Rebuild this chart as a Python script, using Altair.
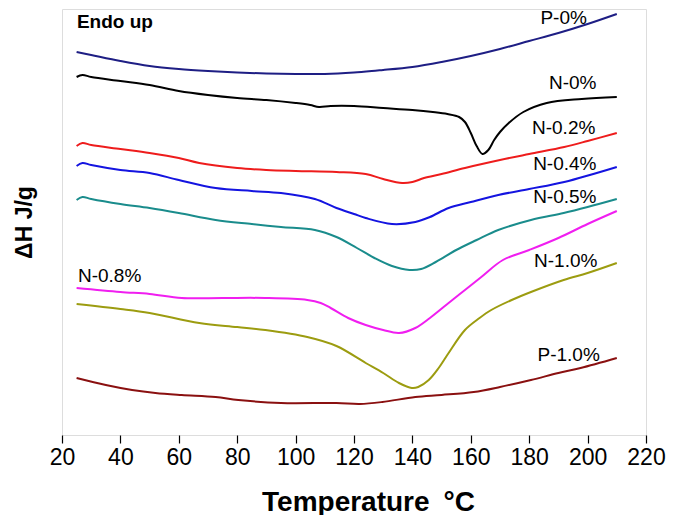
import altair as alt
import pandas as pd

# ---------------- data ----------------
series_names = ["P-0%", "N-0%", "N-0.2%", "N-0.4%", "N-0.5%", "N-0.8%", "N-1.0%", "P-1.0%"]
series_colors = ["#1e1e84", "#000000", "#ee1c1c", "#1414e0", "#1a8c8c", "#f01ef0", "#9c9c10", "#8a1010"]

p0_t = [25, 30, 40, 50, 60, 70, 80, 90, 100, 110, 120, 128, 130, 140, 150, 160, 170, 180, 190, 200, 210]
p0_v = [383, 380, 374, 369, 366, 364, 362.5, 361.5, 361, 361, 362.5, 364.5, 365, 368, 373, 379, 386, 394, 402, 411, 421]

n0_t = [25, 27, 30, 40, 50, 60, 70, 80, 90, 100, 105, 108, 112, 120, 130, 140, 147, 152, 156, 158, 160, 162, 164, 166, 168, 170, 173, 178, 186, 198, 210]
n0_v = [358, 360, 358, 354, 350, 344, 340, 337, 335, 332, 330, 328, 329, 329, 327, 325, 323, 321, 318, 313, 302, 289, 281, 285, 295, 303, 312, 323, 332, 336, 338]

n02_t = [25, 27, 30, 40, 50, 60, 67, 80, 90, 100, 114, 124, 130, 136.5, 140, 144, 150, 158, 170, 180, 192, 200, 210]
n02_v = [289, 292, 290, 286, 282, 277, 272, 267, 265, 264, 263, 261, 256, 252, 253, 257, 261, 267, 275, 281, 288, 294, 302]

n04_t = [25, 27, 30, 40, 50, 60, 72.6, 85, 95, 106.6, 114, 120, 124, 133, 141, 146, 152.4, 160, 169.4, 180, 192, 210]
n04_v = [269, 272, 270, 265, 262, 255, 247, 244, 242, 236, 227, 221, 217, 211, 213, 218, 227, 233, 240, 246, 253, 268]

n05_t = [25, 27, 30, 40, 50, 60, 72.6, 85, 95, 106.6, 114, 121, 127, 133, 139, 143, 148, 155, 162, 169.4, 180.6, 191.8, 200, 210]
n05_v = [235, 238, 236, 231, 227, 222, 215, 211, 208, 205, 198, 187, 177, 169, 165, 166, 173, 185, 195, 205, 215, 222, 228, 236]

n08_t = [25, 40, 50, 61, 75, 89.6, 104, 108.6, 112, 118, 124, 130, 135.4, 141, 146, 152.4, 158, 163.6, 171, 180, 190, 200, 210]
n08_v = [147, 143, 141, 137, 137, 137, 135, 132, 127, 117, 110, 105, 102, 107, 117, 132, 145, 158, 175, 185, 197, 211, 224]

n10_t = [25, 40, 50, 67, 80, 89.6, 104, 114, 124, 130, 135.4, 139.8, 142, 145.6, 149, 152.4, 158, 163, 167, 174, 180.6, 191.8, 200, 210]
n10_v = [131, 126, 122, 112, 108, 105, 98, 89, 72, 62, 52, 47, 48, 55, 67, 82, 105, 117, 125, 135, 143, 155, 162, 172]

p10_t = [25, 35, 44, 52, 61, 72.6, 80.4, 95, 114, 122, 129.7, 141, 150, 161, 170, 180.6, 190, 197.6, 210]
p10_v = [57, 50, 45, 42, 40, 38, 35, 32, 32, 31, 33, 38, 40, 43, 48, 55, 62, 67, 77]

label_text = ["P-0%", "N-0%", "N-0.2%", "N-0.4%", "N-0.5%", "N-1.0%", "P-1.0%", "N-0.8%"]
label_t = [191.8, 194.9, 191.8, 192.2, 192.2, 192.5, 193.5, 36.3]
label_v = [417, 352, 307, 271, 238, 174, 80, 159]

note_text = ["Endo up"]
note_t = [25.1]
note_v = [413]

all_ticks = [20, 30, 40, 50, 60, 70, 80, 90, 100, 110, 120, 130, 140, 150, 160, 170, 180, 190, 200, 210, 220]

# ---------------- tables ----------------
curves = [(p0_t, p0_v), (n0_t, n0_v), (n02_t, n02_v), (n04_t, n04_v),
          (n05_t, n05_v), (n08_t, n08_v), (n10_t, n10_v), (p10_t, p10_v)]
rows = []
for name, (ts, vs) in zip(series_names, curves):
    for t, v in zip(ts, vs):
        rows.append({"series": name, "T": t, "v": v})
df = pd.DataFrame(rows)
labels_df = pd.DataFrame({"text": label_text, "T": label_t, "v": label_v})
note_df = pd.DataFrame({"text": note_text, "T": note_t, "v": note_v})

FONT = "Liberation Sans"

xscale = alt.Scale(domain=[20, 220], nice=False, zero=False)
yscale = alt.Scale(domain=[0, 426], nice=False, zero=False)

x_axis = alt.Axis(
    values=all_ticks,
    labelExpr="datum.value % 20 === 0 ? datum.label : ''",
    tickSize=alt.condition("datum.value % 20 === 0", alt.value(8), alt.value(5)),
    tickColor="black", tickWidth=1.2,
    labelFont=FONT, labelFontSize=23, labelColor="black", labelPadding=3,
    labelFlush=False, labelOverlap=False,
    title="Temperature\u2002°C", titleFont=FONT, titleFontSize=28, titleFontWeight="bold",
    titleColor="black", titlePadding=19, titleX=306, titleAnchor="middle",
    grid=False, domain=False,
)
y_axis = alt.Axis(
    labels=False, ticks=False, grid=False, domain=False,
    title="ΔH J/g", titleFont=FONT, titleFontSize=23, titleFontWeight="bold",
    titleColor="black", titlePadding=26,
)

lines = alt.Chart(df).mark_line(strokeWidth=2, interpolate="catmull-rom").encode(
    x=alt.X("T:Q", scale=xscale, axis=x_axis),
    y=alt.Y("v:Q", scale=yscale, axis=y_axis),
    color=alt.Color("series:N", scale=alt.Scale(domain=series_names, range=series_colors), legend=None),
    detail="series:N",
)

labels = alt.Chart(labels_df).mark_text(font=FONT, fontSize=19, color="black", align="center", baseline="middle").encode(
    x=alt.X("T:Q", scale=xscale), y=alt.Y("v:Q", scale=yscale), text="text:N"
)

note = alt.Chart(note_df).mark_text(font=FONT, fontSize=19, fontWeight="bold", color="black", align="left", baseline="middle").encode(
    x=alt.X("T:Q", scale=xscale), y=alt.Y("v:Q", scale=yscale), text="text:N"
)

chart = alt.layer(lines, labels, note).properties(
    width=584, height=426,
    autosize=alt.AutoSizeParams(type="none"),
    padding={"left": 54, "top": 1, "right": 20, "bottom": 80},
).configure_view(stroke="black", strokeWidth=1.5).configure(background="white")

chart.save("out.html", embed_options={"renderer": "svg", "actions": False})
